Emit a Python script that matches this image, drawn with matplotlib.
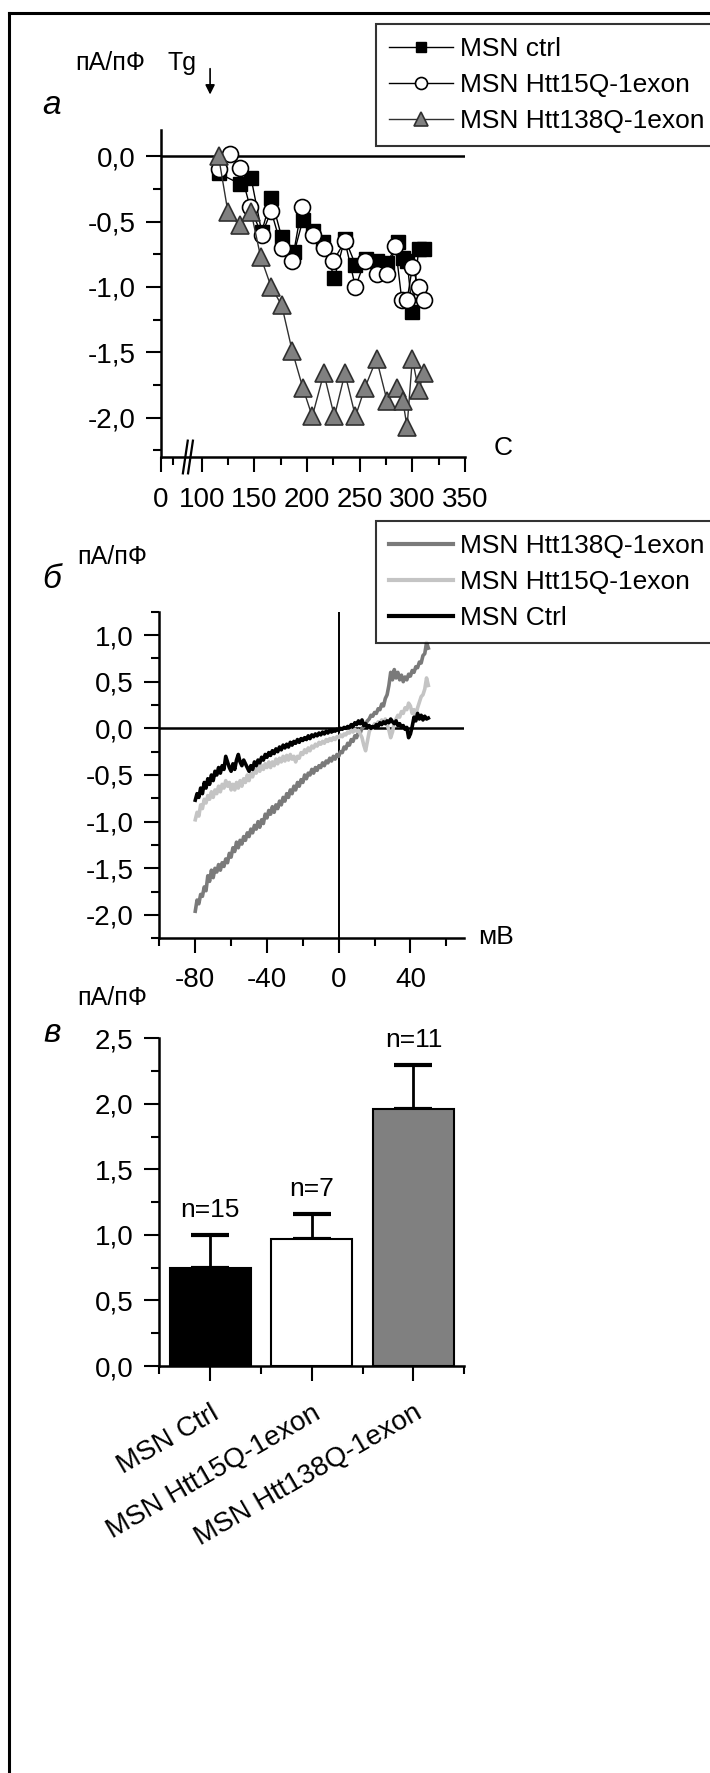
import numpy as np
import matplotlib
matplotlib.use("Agg")
import matplotlib.pyplot as plt
from matplotlib.ticker import FixedLocator, MultipleLocator, FuncFormatter
from matplotlib.lines import Line2D

plt.rcParams['font.family'] = ['Liberation Sans', 'DejaVu Sans']
plt.rcParams['axes.unicode_minus'] = False

W, H = 710, 1773

# ---- panel a: current vs time after Tg ----
tg_time = 108
ctrl_t = [116, 136, 147, 157, 166, 176, 188, 196, 206, 215, 226, 236, 246, 256, 266, 276, 286, 291, 295, 300, 306, 311]
ctrl_v = [-0.13, -0.21, -0.17, -0.58, -0.32, -0.62, -0.73, -0.49, -0.57, -0.66, -0.93, -0.63, -0.83, -0.79, -0.80, -0.82, -0.66, -0.78, -0.80, -1.19, -0.71, -0.71]
h15_t = [116, 127, 136, 146, 157, 166, 176, 186, 195, 206, 216, 225, 236, 246, 255, 266, 276, 284, 290, 295, 300, 306, 311]
h15_v = [-0.10, 0.02, -0.09, -0.39, -0.60, -0.42, -0.70, -0.80, -0.39, -0.60, -0.70, -0.80, -0.65, -1.00, -0.80, -0.90, -0.90, -0.69, -1.10, -1.10, -0.85, -1.00, -1.10]
h138_t = [116, 125, 136, 147, 156, 166, 176, 186, 196, 205, 216, 226, 236, 246, 255, 266, 276, 285, 291, 295, 300, 306, 311]
h138_v = [0.0, -0.43, -0.53, -0.43, -0.77, -1.0, -1.14, -1.49, -1.77, -1.99, -1.66, -1.99, -1.66, -1.99, -1.77, -1.55, -1.87, -1.77, -1.87, -2.07, -1.55, -1.79, -1.66]

# ---- panel b: I-V ramp, sampled every 1 mV from -80 to +50 ----
ramp_mv = list(range(-80, 51))
iv138_v = [-1.96, -1.84, -1.88, -1.78, -1.80, -1.70, -1.74, -1.58, -1.64, -1.52,
           -1.60, -1.50, -1.54, -1.46, -1.52, -1.44, -1.48, -1.40, -1.44, -1.34,
           -1.38, -1.28, -1.32, -1.22, -1.28, -1.20, -1.24, -1.16, -1.20, -1.12,
           -1.16, -1.08, -1.12, -1.04, -1.08, -1.00, -1.06, -0.98, -1.02, -0.92,
           -0.96, -0.88, -0.92, -0.84, -0.90, -0.82, -0.86, -0.78, -0.82, -0.74,
           -0.78, -0.70, -0.74, -0.66, -0.70, -0.62, -0.66, -0.58, -0.62, -0.55,
           -0.58, -0.50, -0.54, -0.48, -0.50, -0.44, -0.48, -0.42, -0.45, -0.40,
           -0.42, -0.37, -0.40, -0.35, -0.37, -0.32, -0.35, -0.30, -0.33, -0.28,
           -0.30, -0.25, -0.26, -0.20, -0.22, -0.16, -0.18, -0.12, -0.14, -0.08,
           -0.10, -0.04, -0.05, 0.00, 0.02, 0.05, 0.08, 0.10, 0.14, 0.13,
           0.17, 0.16, 0.21, 0.20, 0.26, 0.24, 0.32, 0.36, 0.46, 0.60,
           0.52, 0.63, 0.54, 0.60, 0.52, 0.57, 0.50, 0.55, 0.52, 0.58,
           0.56, 0.62, 0.60, 0.66, 0.65, 0.71, 0.70, 0.78, 0.80, 0.92,
           0.86]
iv15_v = [-0.98, -0.90, -0.94, -0.82, -0.86, -0.76, -0.80, -0.72, -0.76, -0.68,
          -0.74, -0.66, -0.70, -0.62, -0.68, -0.60, -0.64, -0.56, -0.62, -0.58,
          -0.66, -0.60, -0.66, -0.58, -0.64, -0.56, -0.62, -0.54, -0.58, -0.50,
          -0.56, -0.48, -0.52, -0.44, -0.48, -0.40, -0.46, -0.40, -0.44, -0.38,
          -0.42, -0.36, -0.42, -0.36, -0.40, -0.33, -0.38, -0.32, -0.36, -0.30,
          -0.35, -0.29, -0.34, -0.28, -0.33, -0.30, -0.36, -0.30, -0.32, -0.26,
          -0.28, -0.23, -0.26, -0.21, -0.24, -0.19, -0.21, -0.17, -0.19, -0.15,
          -0.17, -0.14, -0.16, -0.12, -0.14, -0.11, -0.13, -0.10, -0.12, -0.09,
          -0.10, -0.07, -0.09, -0.06, -0.07, -0.04, -0.05, -0.02, -0.04, -0.01,
          -0.03, -0.02, -0.06, -0.10, -0.18, -0.24, -0.14, -0.04, 0.02, 0.00,
          0.05, 0.03, 0.07, 0.05, 0.09, 0.06, 0.10, 0.04, -0.02, -0.10,
          -0.04, 0.06, 0.10, 0.14, 0.12, 0.18, 0.16, 0.22, 0.20, 0.27,
          0.24, 0.16, 0.20, 0.14, 0.22, 0.28, 0.34, 0.36, 0.42, 0.54,
          0.46]
ivc_v = [-0.77, -0.70, -0.74, -0.64, -0.70, -0.58, -0.64, -0.54, -0.60, -0.50,
         -0.56, -0.46, -0.50, -0.42, -0.48, -0.40, -0.44, -0.30, -0.36, -0.42,
         -0.46, -0.38, -0.44, -0.34, -0.28, -0.36, -0.40, -0.34, -0.38, -0.42,
         -0.46, -0.40, -0.44, -0.36, -0.40, -0.34, -0.37, -0.31, -0.34, -0.28,
         -0.31, -0.26, -0.29, -0.24, -0.27, -0.22, -0.25, -0.20, -0.23, -0.18,
         -0.21, -0.17, -0.20, -0.15, -0.18, -0.14, -0.16, -0.12, -0.15, -0.11,
         -0.13, -0.10, -0.12, -0.08, -0.11, -0.07, -0.09, -0.06, -0.08, -0.05,
         -0.07, -0.04, -0.06, -0.03, -0.05, -0.02, -0.04, -0.02, -0.03, -0.01,
         -0.02, 0.00, -0.01, 0.01, 0.00, 0.02, 0.01, 0.04, 0.02, 0.06,
         0.04, 0.08, 0.05, 0.09, 0.03, 0.05, 0.01, 0.03, 0.00, 0.02,
         0.01, 0.04, 0.02, 0.06, 0.04, 0.07, 0.05, 0.08, 0.06, 0.10,
         0.07, 0.05, 0.08, 0.03, 0.05, 0.01, 0.03, -0.01, 0.01, -0.10,
         -0.06, 0.02, 0.12, 0.08, 0.16, 0.10, 0.14, 0.09, 0.13, 0.10,
         0.11]

# ---- panel c: bars ----
groups = ['MSN Ctrl', 'MSN Htt15Q-1exon', 'MSN Htt138Q-1exon']
means = [0.75, 0.97, 1.96]
sems = [0.25, 0.19, 0.34]
n_cells = [15, 7, 11]
bar_colors = ['black', 'white', '#808080']


def frac(x0, y0, x1, y1):
    return [x0 / W, 1 - y1 / H, (x1 - x0) / W, (y1 - y0) / H]


def comma(v, pos):
    if abs(v) < 1e-9:
        v = 0.0
    return f'{v:.1f}'.replace('.', ',')


def style_axes(ax):
    for s in ['top', 'right']:
        ax.spines[s].set_visible(False)
    for s in ['left', 'bottom']:
        ax.spines[s].set_linewidth(1.8)
    ax.tick_params(which='major', direction='out', length=10.5, width=1.5, labelsize=20)
    ax.tick_params(which='minor', direction='out', length=6, width=1.5)
    ax.tick_params(axis='y', pad=8)


def boxed_legend(ax, top_px):
    leg = ax.legend(loc='upper left', bbox_to_anchor=(376 / W, 1 - top_px / H), bbox_transform=fig.transFigure,
                    fontsize=19, frameon=True, fancybox=False, borderaxespad=0, borderpad=0.5,
                    handlelength=2.4, handletextpad=0.3, labelspacing=0.45)
    leg.get_frame().set_edgecolor('black')
    leg.get_frame().set_linewidth(1.5)
    return leg


fig = plt.figure(figsize=(W / 100, H / 100), dpi=100)

# frame lines of the figure
fig.add_artist(Line2D([9 / W, 9 / W], [0, 1 - 13 / H], color='black', lw=2.2))
fig.add_artist(Line2D([9 / W, 1], [1 - 13 / H, 1 - 13 / H], color='black', lw=2.2))

# ===== panel a =====
K = 0.386


def fwd(x):
    x = np.asarray(x, float)
    return np.where(x >= 100, x, 100 - (100 - x) * K)


def inv(y):
    y = np.asarray(y, float)
    return np.where(y >= 100, y, 100 - (100 - y) / K)


axa = fig.add_axes(frac(161, 130, 465, 457))
axa.set_xscale('function', functions=(fwd, inv))
axa.set_xlim(0, 350)
axa.set_ylim(-2.3, 0.2)
style_axes(axa)
axa.axhline(0, color='black', lw=1.8, zorder=1)
axa.plot(ctrl_t, ctrl_v, '-s', color='black', lw=1, ms=10.5, mfc='black', mec='black', label='MSN ctrl', zorder=3)
axa.plot(h15_t, h15_v, '-o', color='black', lw=1, ms=11.5, mfc='white', mec='black', mew=1.2, label='MSN Htt15Q-1exon', zorder=4)
axa.plot(h138_t, h138_v, '-^', color='#303030', lw=1, ms=13, mfc='#808080', mec='#303030', mew=1.2, label='MSN Htt138Q-1exon', zorder=5)
axa.xaxis.set_major_locator(FixedLocator([0, 100, 150, 200, 250, 300, 350]))
axa.xaxis.set_minor_locator(FixedLocator([30, 125, 175, 225, 275, 325]))
axa.xaxis.set_major_formatter(FuncFormatter(lambda v, p: f'{v:.0f}'))
axa.xaxis.set_minor_formatter(FuncFormatter(lambda v, p: ''))
axa.yaxis.set_major_locator(MultipleLocator(0.5))
axa.yaxis.set_minor_locator(MultipleLocator(0.25))
axa.yaxis.set_major_formatter(FuncFormatter(comma))
axa.tick_params(axis='x', pad=11)
# axis break marks
for dx in (0.0, 0.017):
    axa.plot([0.072 + dx, 0.088 + dx], [-0.05, 0.05], transform=axa.transAxes, color='black', lw=1.6, clip_on=False)
axa.annotate('', xy=(tg_time, 0.45), xytext=(tg_time, 0.69), xycoords='data',
             arrowprops=dict(arrowstyle='-|>', color='black', lw=1.2, mutation_scale=14), annotation_clip=False)
lega = boxed_legend(axa, 24)
for h in lega.legend_handles:
    h.set_markersize(h.get_markersize() * 0.75)

fig.text(52 / W, 1 - 106 / H, 'а', fontsize=24, style='italic', ha='center', va='center')
fig.text(75 / W, 1 - 63 / H, 'пА/пФ', fontsize=18, ha='left', va='center')
fig.text(167 / W, 1 - 63 / H, 'Tg', fontsize=18, ha='left', va='center')
fig.text(503 / W, 1 - 448 / H, 'С', fontsize=19, ha='center', va='center')

# ===== panel b =====
axb = fig.add_axes(frac(159.4, 611.7, 464.2, 938.3))
axb.set_xlim(-100, 70)
axb.set_ylim(-2.25, 1.25)
style_axes(axb)
axb.axhline(0, color='black', lw=1.8, zorder=1)
axb.axvline(0, color='black', lw=1.4, zorder=1)
axb.plot(ramp_mv, iv138_v, color='#7a7a7a', lw=2.6, label='MSN Htt138Q-1exon', zorder=3)
axb.plot(ramp_mv, iv15_v, color='#c4c4c4', lw=2.6, label='MSN Htt15Q-1exon', zorder=3)
axb.plot(ramp_mv, ivc_v, color='black', lw=2.6, label='MSN Ctrl', zorder=4)
axb.xaxis.set_major_locator(FixedLocator([-80, -40, 0, 40]))
axb.xaxis.set_minor_locator(FixedLocator([-100, -60, -20, 20, 60]))
axb.xaxis.set_major_formatter(FuncFormatter(lambda v, p: f'{v:.0f}'))
axb.yaxis.set_major_locator(MultipleLocator(0.5))
axb.yaxis.set_minor_locator(MultipleLocator(0.25))
axb.yaxis.set_major_formatter(FuncFormatter(comma))
axb.tick_params(axis='x', pad=10)
legb = boxed_legend(axb, 521)
for ln in legb.get_lines():
    ln.set_linewidth(3)

fig.text(52 / W, 1 - 580 / H, 'б', fontsize=24, style='italic', ha='center', va='center')
fig.text(77 / W, 1 - 557 / H, 'пА/пФ', fontsize=18, ha='left', va='center')
fig.text(478 / W, 1 - 937 / H, 'мВ', fontsize=19, ha='left', va='center')

# ===== panel c =====
axc = fig.add_axes(frac(159.4, 1038.3, 464.2, 1366))
xs = np.arange(len(groups))
axc.bar(xs, means, width=0.8, color=bar_colors, edgecolor='black', linewidth=1.5, zorder=2)
axc.errorbar(xs, means, yerr=[np.zeros(len(sems)), sems], fmt='none', ecolor='black', elinewidth=2,
             capsize=14, capthick=3, zorder=1)
axc.set_xlim(-0.5, 2.5)
axc.set_ylim(0, 2.5)
style_axes(axc)
axc.set_xticks(xs)
axc.set_xticklabels(groups, rotation=30, ha='right', rotation_mode='anchor', fontsize=20)
axc.xaxis.set_minor_locator(FixedLocator([-0.5, 0.5, 1.5, 2.5]))
axc.yaxis.set_major_locator(MultipleLocator(0.5))
axc.yaxis.set_minor_locator(MultipleLocator(0.25))
axc.yaxis.set_major_formatter(FuncFormatter(comma))
axc.tick_params(axis='x', which='major', pad=14)
for x, m, s, n in zip(xs, means, sems, n_cells):
    axc.annotate(f'n={n}', xy=(x, m + s), xytext=(0, 9), textcoords='offset points',
                 ha='center', va='bottom', fontsize=19)

fig.text(52 / W, 1 - 1033 / H, 'в', fontsize=24, style='italic', ha='center', va='center')
fig.text(77 / W, 1 - 998 / H, 'пА/пФ', fontsize=18, ha='left', va='center')

fig.savefig('out.png', dpi=100)
